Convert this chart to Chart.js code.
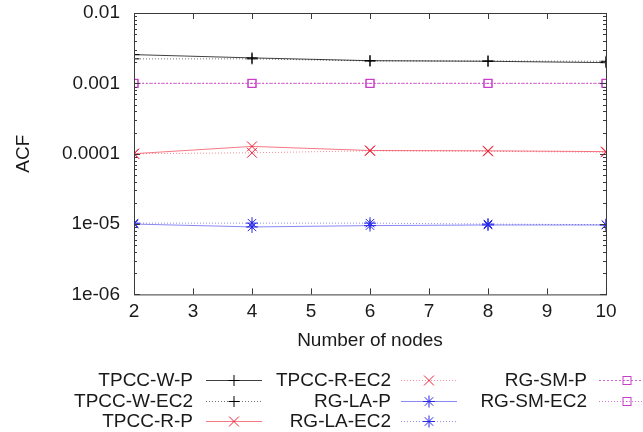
<!DOCTYPE html>
<html>
<head>
<meta charset="utf-8">
<script src="https://cdn.jsdelivr.net/npm/chart.js@4.4.0/dist/chart.umd.min.js"></script>
<style>
  html, body { margin: 0; padding: 0; background: #fff; }
  #wrap { width: 643px; height: 432px; }
</style>
</head>
<body>
<div id="wrap"><canvas id="acf"></canvas></div>
<script>
// values (log scale)
const nodes = [2, 4, 6, 8, 10]
const xTicks = [2, 3, 4, 5, 6, 7, 8, 9, 10]
const yTicks = [1e-6, 1e-5, 1e-4, 1e-3, 1e-2]
const yTickLabels = ['1e-06', '1e-05', '0.0001', '0.001', '0.01']

const tpccWP = [0.00256, 0.0023, 0.0021, 0.00206, 0.00197]
const tpccWEC2 = [0.00223, 0.00223, 0.00208, 0.00208, 0.00206]
const tpccRP = [0.0001, 0.000127, 0.000111, 0.00011, 0.000107]
const tpccREC2 = [0.0001, 0.000103, 0.00011, 0.000108, 0.000105]
const rgLAP = [1.0e-5, 9.1e-6, 9.5e-6, 9.7e-6, 9.7e-6]
const rgLAEC2 = [1.03e-5, 1.03e-5, 1.03e-5, 1.0e-5, 9.8e-6]
const rgSMP = [0.001, 0.001, 0.001, 0.001, 0.001]
const rgSMEC2 = [0.001, 0.001, 0.001, 0.001, 0.001]

const FONT = 'Liberation Sans, Arial, sans-serif'
const TEXT = '#1a1a1a'

// gnuplot's open square with a dot in the middle
function dottedSquare(color) {
    let c = document.createElement('canvas')
    c.width = 11
    c.height = 11
    let g = c.getContext('2d')
    g.strokeStyle = color
    g.fillStyle = color
    g.lineWidth = 1
    g.strokeRect(1.5, 1.5, 8, 8)
    g.fillRect(5, 5, 1, 1)
    return c
}

function series(label, values, lineColor, markColor, dash, pointStyle, radius) {
    return {
        label: label,
        data: nodes.map((n, i) => ({ x: n, y: values[i] })),
        borderColor: lineColor,
        backgroundColor: lineColor,
        borderWidth: 1,
        borderDash: dash,
        pointStyle: pointStyle,
        pointRadius: radius,
        pointBorderWidth: 1,
        pointBorderColor: markColor,
        pointBackgroundColor: 'rgba(0,0,0,0)',
        fill: false,
        tension: 0
    }
}

const solid = []
const dots = [1, 2]
const square = dottedSquare('#c83cc8')

const datasets = [
    series('TPCC-W-P', tpccWP, 'rgba(0,0,0,0.75)', '#000', solid, 'cross', 5.5),
    series('TPCC-W-EC2', tpccWEC2, 'rgba(0,0,0,0.55)', '#000', dots, 'cross', 5.5),
    series('TPCC-R-P', tpccRP, 'rgba(240,30,50,0.6)', '#f01e32', solid, 'crossRot', 7),
    series('TPCC-R-EC2', tpccREC2, 'rgba(240,30,50,0.5)', '#f01e32', dots, 'crossRot', 7),
    series('RG-LA-P', rgLAP, 'rgba(40,40,235,0.55)', '#2828eb', solid, 'star', 6),
    series('RG-LA-EC2', rgLAEC2, 'rgba(40,40,235,0.5)', '#2828eb', dots, 'star', 6),
    series('RG-SM-P', rgSMP, 'rgba(200,60,200,0.8)', '#c83cc8', [2, 2], square, 5),
    series('RG-SM-EC2', rgSMEC2, 'rgba(200,60,200,0.7)', '#c83cc8', dots, square, 5)
]

// gnuplot style frame with inward ticks
const framePlugin = {
    id: 'frame',
    afterDatasetsDraw(chart) {
        let { ctx, chartArea: a, scales } = chart
        ctx.save()
        ctx.strokeStyle = '#3a3a3a'
        ctx.lineWidth = 1
        ctx.setLineDash([])
        ctx.strokeRect(a.left + 0.5, a.top + 0.5, a.right - a.left, a.bottom - a.top)
        ctx.beginPath()
        xTicks.forEach((v) => {
            let px = Math.round(scales.x.getPixelForValue(v)) + 0.5
            ctx.moveTo(px, a.bottom); ctx.lineTo(px, a.bottom - 6)
            ctx.moveTo(px, a.top); ctx.lineTo(px, a.top + 6)
        })
        yTicks.forEach((v, i) => {
            let py = Math.round(scales.y.getPixelForValue(v)) + 0.5
            ctx.moveTo(a.left, py); ctx.lineTo(a.left + 6, py)
            ctx.moveTo(a.right, py); ctx.lineTo(a.right - 6, py)
            if (i === yTicks.length - 1) return
            for (let m = 2; m <= 9; m++) {
                let pm = Math.round(scales.y.getPixelForValue(v * m)) + 0.5
                ctx.moveTo(a.left, pm); ctx.lineTo(a.left + 3, pm)
                ctx.moveTo(a.right, pm); ctx.lineTo(a.right - 3, pm)
            }
        })
        ctx.stroke()
        ctx.restore()
    }
}

// three column key under the plot, text right aligned before the sample
const keyPlugin = {
    id: 'key',
    afterDraw(chart) {
        let ctx = chart.ctx
        let textRight = [193, 391, 587]
        let sampleLeft = [206, 401, 599]
        let rowY = [380, 401, 421]
        let len = 56
        ctx.save()
        ctx.font = '19px ' + FONT
        ctx.textAlign = 'right'
        ctx.textBaseline = 'middle'
        chart.data.datasets.forEach((ds, i) => {
            let col = Math.floor(i / 3)
            let y = rowY[i % 3]
            ctx.fillStyle = TEXT
            ctx.fillText(ds.label, textRight[col], y + 1)
            let x0 = sampleLeft[col]
            ctx.strokeStyle = ds.borderColor
            ctx.lineWidth = 1
            ctx.setLineDash(ds.borderDash)
            ctx.beginPath()
            ctx.moveTo(x0, y + 0.5)
            ctx.lineTo(x0 + len, y + 0.5)
            ctx.stroke()
            ctx.setLineDash([])
            ctx.strokeStyle = ds.pointBorderColor
            ctx.fillStyle = 'rgba(0,0,0,0)'
            Chart.helpers.drawPoint(ctx, {
                pointStyle: ds.pointStyle,
                radius: ds.pointRadius,
                rotation: 0,
                borderWidth: 1
            }, x0 + len / 2, y + 0.5)
        })
        ctx.restore()
    }
}

let ctx = document.getElementById('acf').getContext('2d')
let acfChart = new Chart(ctx, {
    type: 'line',
    data: { datasets: datasets },
    options: {
        responsive: true,
        maintainAspectRatio: false,
        animation: false,
        layout: { padding: { top: 13, right: 37, bottom: 80, left: 0 } },
        plugins: {
            legend: { display: false },
            tooltip: { enabled: false }
        },
        scales: {
            x: {
                type: 'linear',
                min: 2,
                max: 10,
                afterBuildTicks: (scale) => { scale.ticks = xTicks.map((v) => ({ value: v })) },
                grid: { display: false, drawTicks: false },
                border: { display: false },
                ticks: {
                    padding: 6,
                    color: TEXT,
                    font: { family: FONT, size: 19 },
                    maxRotation: 0
                },
                title: {
                    display: true,
                    text: 'Number of nodes',
                    color: TEXT,
                    font: { family: FONT, size: 19 },
                    padding: { top: 0, bottom: 0 }
                }
            },
            y: {
                type: 'logarithmic',
                min: 1e-6,
                max: 1e-2,
                afterBuildTicks: (scale) => { scale.ticks = yTicks.map((v) => ({ value: v, major: true })) },
                afterFit: (scale) => {
                    scale.width = 134
                    scale.paddingTop = 0
                    scale.paddingBottom = 0
                },
                grid: { display: false, drawTicks: false },
                border: { display: false },
                ticks: {
                    padding: 14,
                    color: TEXT,
                    font: { family: FONT, size: 19 },
                    callback: (value, index) => yTickLabels[index]
                },
                title: {
                    display: true,
                    text: 'ACF',
                    color: TEXT,
                    font: { family: FONT, size: 19 },
                    padding: { top: 12, bottom: 0 }
                }
            }
        }
    },
    plugins: [framePlugin, keyPlugin]
})
</script>
</body>
</html>
